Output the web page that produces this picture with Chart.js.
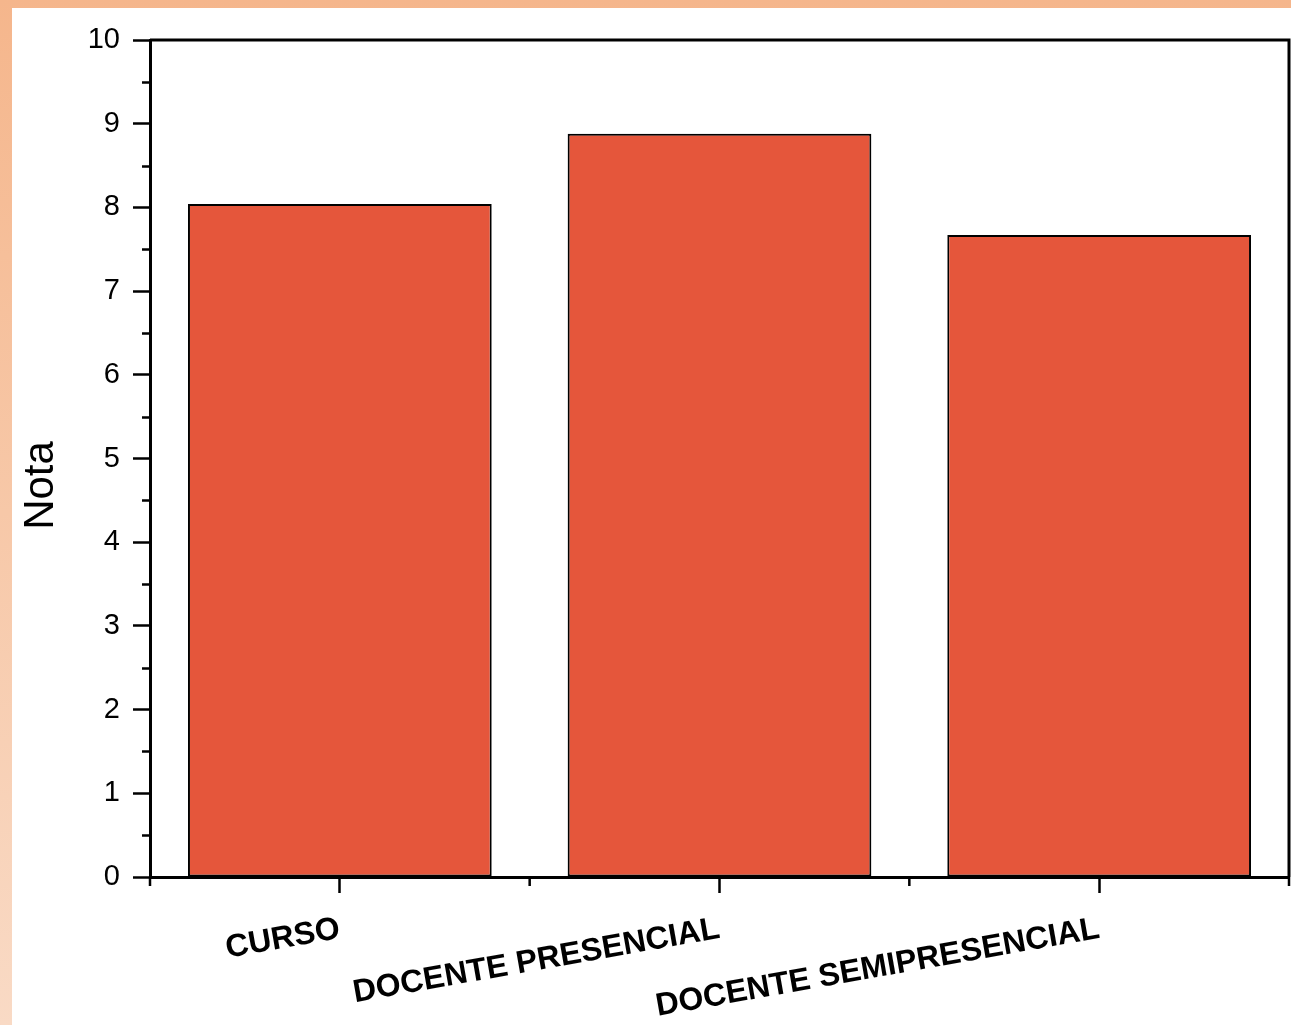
<!DOCTYPE html>
<html>
<head>
<meta charset="utf-8">
<script src="https://cdn.jsdelivr.net/npm/chart.js@4.4.1/dist/chart.umd.min.js"></script>
<style>
  html, body { margin: 0; padding: 0; }
  body {
    width: 1291px; height: 1025px; overflow: hidden; position: relative;
    background: linear-gradient(to bottom, #F5B68C 0%, #F7C8A8 50%, #F9DAC5 100%);
  }
  #wrap {
    position: absolute; left: 12px; top: 8px; width: 1279px; height: 1017px;
    background: #ffffff;
  }
</style>
</head>
<body>
<div id="wrap"><canvas id="c" width="1279" height="1017"></canvas></div>
<script>
const categories = ['CURSO', 'DOCENTE PRESENCIAL', 'DOCENTE SEMIPRESENCIAL'];
const notaValues = [8.04, 8.88, 7.67];
const yTickValues = [0, 1, 2, 3, 4, 5, 6, 7, 8, 9, 10];
const yMinorValues = [0.5, 1.5, 2.5, 3.5, 4.5, 5.5, 6.5, 7.5, 8.5, 9.5];
const yAxisTitle = 'Nota';

const frameAndMinor = {
  id: 'frameAndMinor',
  afterDraw(chart) {
    const ctx = chart.ctx;
    const a = chart.chartArea;
    const y = chart.scales.y;
    const x = chart.scales.x;
    ctx.save();
    ctx.strokeStyle = '#000';
    // top and right frame
    ctx.lineWidth = 3;
    ctx.beginPath();
    ctx.moveTo(a.left, a.top);
    ctx.lineTo(a.right, a.top);
    ctx.lineTo(a.right, a.bottom);
    ctx.stroke();
    // y minor ticks
    ctx.lineWidth = 2.5;
    ctx.beginPath();
    yMinorValues.forEach(v => {
      const py = Math.round(y.getPixelForValue(v)) + 0.5;
      ctx.moveTo(a.left - 8, py);
      ctx.lineTo(a.left, py);
    });
    // x minor ticks at category boundaries
    const n = categories.length;
    for (let i = 0; i <= n; i++) {
      let px;
      if (i === 0) px = a.left;
      else if (i === n) px = a.right;
      else px = (x.getPixelForTick(i - 1) + x.getPixelForTick(i)) / 2;
      ctx.moveTo(px, a.bottom);
      ctx.lineTo(px, a.bottom + 9);
    }
    ctx.stroke();
    // y axis title
    ctx.fillStyle = '#000';
    ctx.font = '42px "Liberation Sans", Arial, sans-serif';
    ctx.textAlign = 'center';
    ctx.textBaseline = 'middle';
    ctx.translate(29, (y.top + y.bottom) / 2 + 27);
    ctx.rotate(-Math.PI / 2);
    ctx.fillText(yAxisTitle, 0, 0);
    ctx.restore();
  }
};

new Chart(document.getElementById('c'), {
  type: 'bar',
  data: {
    labels: categories,
    datasets: [{
      label: yAxisTitle,
      data: notaValues,
      backgroundColor: '#E5563B',
      borderColor: '#000000',
      borderWidth: 2,
      borderSkipped: false,
      categoryPercentage: 0.8,
      barPercentage: 1.0
    }]
  },
  options: {
    responsive: false,
    animation: false,
    devicePixelRatio: 1,
    layout: { padding: { left: 4, right: 2, top: 32, bottom: 0 } },
    plugins: { legend: { display: false }, tooltip: { enabled: false } },
    scales: {
      x: {
        offset: true,
        grid: { offset: false, drawOnChartArea: false, tickLength: 16, tickWidth: 2.5, tickColor: '#000' },
        border: { display: true, color: '#000', width: 3 },
        ticks: {
          autoSkip: false, minRotation: 10, maxRotation: 10, padding: 17,
          color: '#000',
          font: { family: '"Liberation Sans", Arial, sans-serif', size: 32, weight: 'bold' }
        },
        afterFit(scale) { scale.height = 148; }
      },
      y: {
        min: 0, max: 10,
        afterBuildTicks(scale) { scale.ticks = yTickValues.map(v => ({ value: v })); },
        grid: { drawOnChartArea: false, tickLength: 17, tickWidth: 2.5, tickColor: '#000' },
        border: { display: true, color: '#000', width: 3 },
        ticks: {
          padding: 13, color: '#000',
          font: { family: '"Liberation Sans", Arial, sans-serif', size: 29 }
        },
        title: { display: false },
        afterFit(scale) { scale.width = 134; }
      }
    }
  },
  plugins: [frameAndMinor]
});
</script>
</body>
</html>
